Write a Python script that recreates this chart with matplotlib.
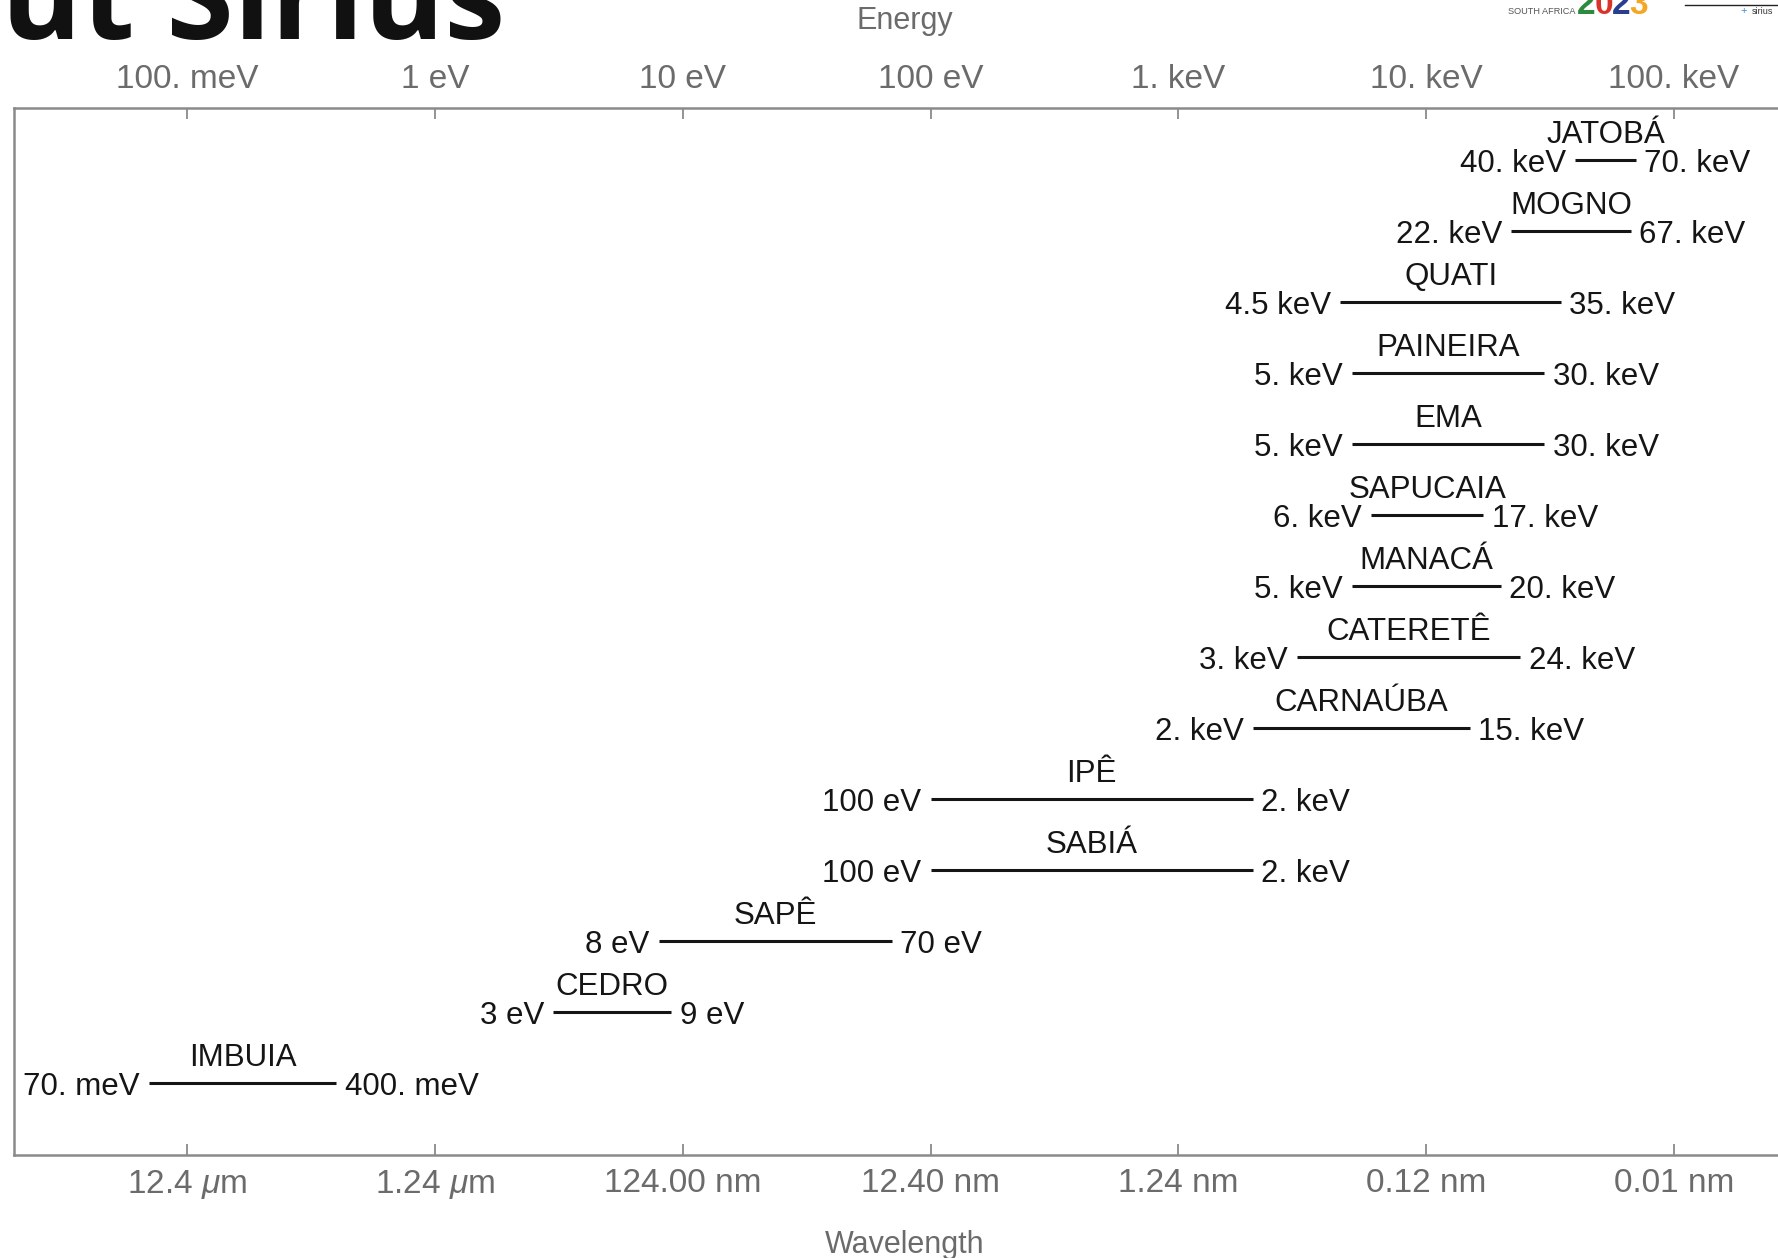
import matplotlib
matplotlib.use("Agg")
import matplotlib.pyplot as plt
from matplotlib.transforms import offset_copy

# ---------------- data ----------------
beamlines = ["JATOBÁ", "MOGNO", "QUATI", "PAINEIRA", "EMA", "SAPUCAIA", "MANACÁ",
             "CATERETÊ", "CARNAÚBA", "IPÊ", "SABIÁ", "SAPÊ", "CEDRO", "IMBUIA"]
e_min_eV = [40e3, 22e3, 4.5e3, 5e3, 5e3, 6e3, 5e3, 3e3, 2e3, 100, 100, 8, 3, 0.07]
e_max_eV = [70e3, 67e3, 35e3, 30e3, 30e3, 17e3, 20e3, 24e3, 15e3, 2e3, 2e3, 70, 9, 0.4]
min_labels = ["40. keV", "22. keV", "4.5 keV", "5. keV", "5. keV", "6. keV", "5. keV",
              "3. keV", "2. keV", "100 eV", "100 eV", "8 eV", "3 eV", "70. meV"]
max_labels = ["70. keV", "67. keV", "35. keV", "30. keV", "30. keV", "17. keV", "20. keV",
              "24. keV", "15. keV", "2. keV", "2. keV", "70 eV", "9 eV", "400. meV"]
energy_ticks_eV = [0.1, 1, 10, 100, 1e3, 1e4, 1e5]
energy_tick_labels = ["100. meV", "1 eV", "10 eV", "100 eV", "1. keV", "10. keV", "100. keV"]
wavelength_tick_labels = [r"12.4 $\mu$m", r"1.24 $\mu$m", "124.00 nm", "12.40 nm",
                          "1.24 nm", "0.12 nm", "0.01 nm"]

# ---------------- style ----------------
plt.rcParams['font.family'] = ['Liberation Sans', 'DejaVu Sans']
plt.rcParams['mathtext.fontset'] = 'custom'
plt.rcParams['mathtext.rm'] = 'Liberation Sans'
plt.rcParams['mathtext.it'] = 'Liberation Sans:italic'

W, H = 1778, 1258
fig = plt.figure(figsize=(W / 100, H / 100), dpi=100)
fig.patch.set_facecolor('white')

ax_left, ax_right, ax_top, ax_bot = 13.5, 1795, 107.7, 1154.5
ax = fig.add_axes([ax_left / W, 1 - ax_bot / H, (ax_right - ax_left) / W, (ax_bot - ax_top) / H])
ax.set_xscale('log')
xlim = (0.01993, 3.08e5)
ax.set_xlim(*xlim)
n = len(beamlines)
ax.set_ylim(0, n + 0.74)

spine_col = '#8a8a8a'
tick_col = '#6b6b6b'
for s in ax.spines.values():
    s.set_color(spine_col)
    s.set_linewidth(1.8)

ax.set_yticks([])
ax.set_xticks(energy_ticks_eV)
ax.set_xticklabels(wavelength_tick_labels)
ax.xaxis.set_minor_locator(matplotlib.ticker.NullLocator())
ax.tick_params(axis='x', direction='in', length=8, width=1.3, color=spine_col,
               labelsize=24, labelcolor=tick_col, pad=10)

ax2 = ax.twiny()
ax2.set_xscale('log')
ax2.set_xlim(*xlim)
ax2.set_xticks(energy_ticks_eV)
ax2.set_xticklabels(energy_tick_labels)
ax2.xaxis.set_minor_locator(matplotlib.ticker.NullLocator())
ax2.tick_params(axis='x', direction='in', length=8, width=1.3, color=spine_col,
                labelsize=24, labelcolor=tick_col, pad=9)
for s in ax2.spines.values():
    s.set_visible(False)

txt_col = '#151515'
for i, name in enumerate(beamlines):
    y = n - i
    lo, hi = e_min_eV[i], e_max_eV[i]
    ax.plot([lo, hi], [y, y], color=txt_col, lw=2.2, solid_capstyle='butt')
    mid = (lo * hi) ** 0.5
    ax.text(mid, y, name, transform=offset_copy(ax.transData, fig=fig, x=0, y=12.5, units='points'),
            ha='center', va='baseline', fontsize=22.5, color=txt_col)
    ax.text(lo, y, min_labels[i], transform=offset_copy(ax.transData, fig=fig, x=-6.5, y=0, units='points'),
            ha='right', va='center_baseline', fontsize=22.5, color=txt_col)
    ax.text(hi, y, max_labels[i], transform=offset_copy(ax.transData, fig=fig, x=6, y=0, units='points'),
            ha='left', va='center_baseline', fontsize=22.5, color=txt_col)

fig.text(905 / W, 1 - 21.5 / H, "Energy", ha='center', va='center', fontsize=22, color=tick_col)
fig.text(905 / W, 1 - 1245 / H, "Wavelength", ha='center', va='center', fontsize=22, color=tick_col)

# slide elements partly visible in the crop
fig.text(505 / W, 1 - 38 / H, "About Sirius", ha='right', va='baseline', fontsize=88,
         fontweight='bold', family='Open Sans', color='#111111')
fig.text(1508 / W, 1 - 14 / H, "SOUTH AFRICA", ha='left', va='baseline', fontsize=6.6,
         color='#555555')
for k, (ch, c) in enumerate(zip("2023", ['#2e8b3e', '#d9342b', '#2a3e8f', '#f5a623'])):
    fig.text((1577 + k * 17.5) / W, 1 - 14 / H, ch, ha='left', va='baseline', fontsize=24,
             fontweight='bold', color=c)
fig.text(1744 / W, 1 - 14 / H, "+", ha='center', va='baseline', fontsize=8, color='#3b8fd4')
fig.text(1752 / W, 1 - 14 / H, "sirius", ha='left', va='baseline', fontsize=6.5, color='#333333')
fig.add_artist(plt.Line2D([1685 / W, 1778 / W], [1 - 5 / H, 1 - 5 / H], color='#222222', lw=1))

fig.savefig("out.png", dpi=100, facecolor='white')
